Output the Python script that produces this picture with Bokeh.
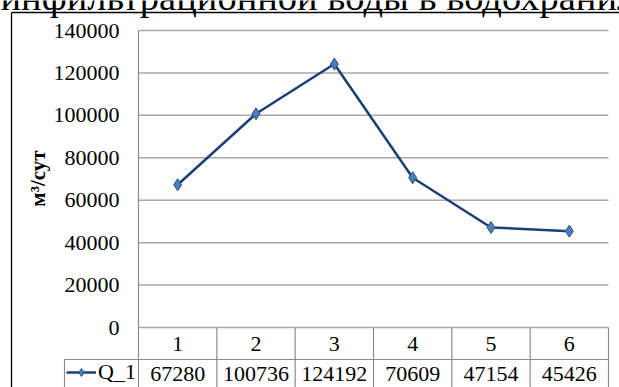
from bokeh.plotting import figure
from bokeh.models import Range1d, Label, Legend, LegendItem, ColumnDataSource
from bokeh.core.properties import value
from bokeh.embed import file_html
from bokeh.resources import INLINE

# ---- data ----
categories = ["1", "2", "3", "4", "5", "6"]
q1 = [67280, 100736, 124192, 70609, 47154, 45426]
series_name = "Q_1"
y_ticks = [0, 20000, 40000, 60000, 80000, 100000, 120000, 140000]
y_title = "м³/сут"
caption = "инфильтрационной воды в водохранилище"

SERIF = "'Liberation Serif', 'Times New Roman', 'DejaVu Serif', serif"

# ---- layout (pixels) ----
W, H = 619, 387
PL, PR = 138, 608          # plot area left/right in px
PY0, PYTOP = 327, 30       # px of y=0 and y=140000
ROW_DIV = 359              # px of the table row divider
UX = (PR - PL) / len(categories)
UY = (PY0 - PYTOP) / y_ticks[-1]


def xd(px):
    return 0.5 + (px - PL) / UX


def yd(py):
    return (PY0 - py) / UY


p = figure(width=W, height=H, output_backend="svg", toolbar_location=None,
           x_range=Range1d(xd(0), xd(W)), y_range=Range1d(yd(H), yd(0)),
           x_axis_location=None, y_axis_location=None,
           min_border_left=0, min_border_right=0, min_border_top=0, min_border_bottom=0)
p.outline_line_color = None
p.background_fill_color = "white"
p.border_fill_color = "white"
p.xgrid.visible = False
p.ygrid.visible = False

xs = [i + 1 for i in range(len(categories))]
GRAY = "#8c8c8c"
GRID = "#a8a8a8"
bounds = [i + 0.5 for i in range(len(categories) + 1)]

# cut-off caption above the chart (the reference shows only its lower part)
p.text(x=[xd(0)], y=[yd(-4)], text=[caption], text_font=value(SERIF),
       text_font_size="38.5px", text_align="left", text_baseline="alphabetic",
       text_color="black")

# outer chart border
p.segment(x0=[xd(11), xd(11)], y0=[yd(12), yd(12)], x1=[xd(W + 20), xd(11)],
          y1=[yd(12), yd(H + 20)], line_color="black", line_width=1.3)

# horizontal gridlines from the tick values
p.segment(x0=[bounds[0]] * len(y_ticks), y0=y_ticks, x1=[bounds[-1]] * len(y_ticks),
          y1=y_ticks, line_color=GRID, line_width=1.5)

# y tick labels
p.text(x=[xd(119)] * len(y_ticks), y=y_ticks, text=[str(t) for t in y_ticks],
       text_font=value(SERIF), text_font_size="22px", text_align="right",
       text_baseline="middle", text_color="black")

# table verticals
p.segment(x0=bounds[0], y0=y_ticks[-1], x1=bounds[0], y1=yd(H + 20),
          line_color=GRAY, line_width=1.2)
p.segment(x0=bounds[1:], y0=[0] * (len(bounds) - 1), x1=bounds[1:],
          y1=[yd(H + 20)] * (len(bounds) - 1), line_color=GRAY, line_width=1.2)
# legend cell
p.segment(x0=[xd(64), xd(64)], y0=[yd(ROW_DIV), yd(ROW_DIV)],
          x1=[bounds[-1], xd(64)], y1=[yd(ROW_DIV), yd(H + 20)],
          line_color=GRAY, line_width=1.2)

# table texts
row1_y = (0 + yd(ROW_DIV)) / 2
row2_y = yd(ROW_DIV + 14)
tsrc = ColumnDataSource(dict(x=xs, cat=categories, val=[str(v) for v in q1],
                             y1=[row1_y] * len(xs), y2=[row2_y] * len(xs)))
p.text(x="x", y="y1", text="cat", source=tsrc, text_font=value(SERIF),
       text_font_size="22px", text_align="center", text_baseline="middle", text_color="black")
p.text(x="x", y="y2", text="val", source=tsrc, text_font=value(SERIF),
       text_font_size="22px", text_align="center", text_baseline="middle", text_color="black")

# series
lr = p.line(xs, q1, line_color="#1c3f74", line_width=2.5)
sr = p.scatter(xs, q1, marker="diamond", size=12, fill_color="#4a7ebb",
               line_color="#2a5288", line_width=1)

legend = Legend(items=[LegendItem(label=series_name, renderers=[lr, sr])],
                location=(66, 2), glyph_width=30, glyph_height=20,
                label_height=20, label_standoff=2, padding=0, margin=0, spacing=0,
                label_text_font=SERIF, label_text_font_size="22px",
                label_text_color="black", border_line_color=None,
                background_fill_alpha=0)
p.add_layout(legend)

# axis title
p.add_layout(Label(x=xd(37), y=yd(178), text=y_title, angle=90, angle_units="deg",
                   text_font=SERIF, text_font_style="bold",
                   text_font_size="21px", text_align="center", text_baseline="middle",
                   text_color="black"))

open("out.html", "w").write(file_html(p, INLINE))
